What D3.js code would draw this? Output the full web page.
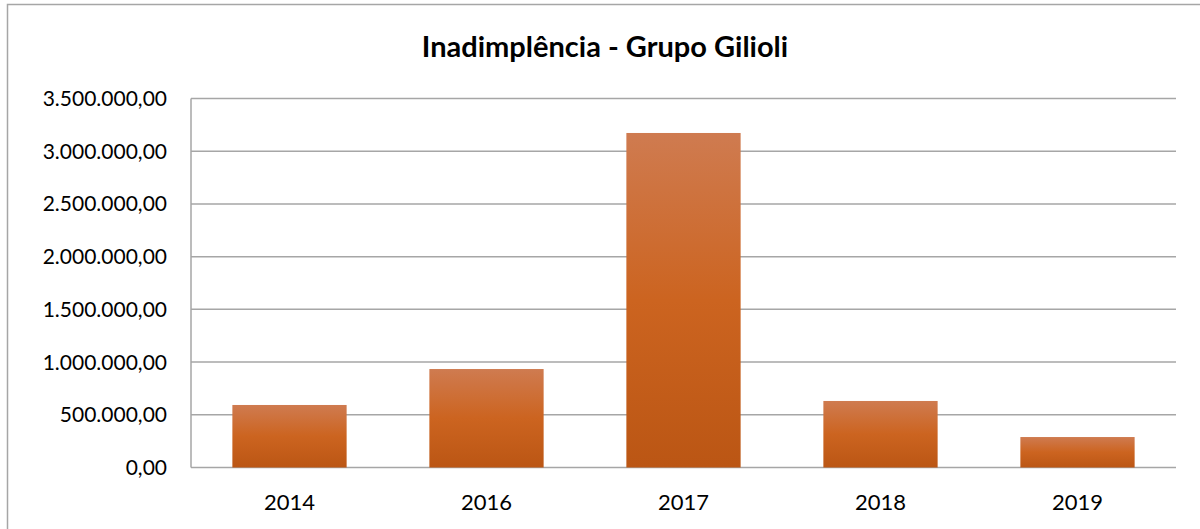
<!DOCTYPE html>
<html>
<head>
<meta charset="utf-8">
<script src="https://cdn.jsdelivr.net/npm/d3@7"></script>
<style>
  body { margin: 0; background: #fff; }
  svg { display: block; }
</style>
</head>
<body>
<svg id="chart" width="1200" height="529"></svg>
<script>
// data
var years = ['2014', '2016', '2017', '2018', '2019'];
var values = [593000, 934000, 3173000, 631000, 289000];
var yTicks = [0, 500000, 1000000, 1500000, 2000000, 2500000, 3000000, 3500000];

var svg = d3.select('#chart');
var m = { left: 191, right: 1176, top: 98.5, bottom: 467.5 };

// outer frame (chart area border)
svg.append('rect')
  .attr('x', 7.5).attr('y', 4.5)
  .attr('width', 1210).attr('height', 540)
  .attr('fill', 'none')
  .attr('stroke', '#a6a6a6')
  .attr('stroke-width', 1.5);

var grad = svg.append('defs').append('linearGradient')
  .attr('id', 'barGrad')
  .attr('x1', 0).attr('y1', 0).attr('x2', 0).attr('y2', 1);
grad.append('stop').attr('offset', '0%').attr('stop-color', '#cf7b50');
grad.append('stop').attr('offset', '50%').attr('stop-color', '#cc6420');
grad.append('stop').attr('offset', '100%').attr('stop-color', '#bb5614');

var x = d3.scaleBand().domain(years).range([m.left, m.right]).paddingInner(0.42).paddingOuter(0.21);
var y = d3.scaleLinear().domain([0, 3500000]).range([m.bottom, m.top]);

var fmt = function (v) {
  var s = d3.format(',.2f')(v);
  return s.replace(/,/g, '#').replace('.', ',').replace(/#/g, '.');
};

// gridlines
svg.append('g')
  .selectAll('line')
  .data(yTicks)
  .join('line')
  .attr('x1', m.left).attr('x2', m.right)
  .attr('y1', function (d) { return y(d); })
  .attr('y2', function (d) { return y(d); })
  .attr('stroke', '#a6a6a6')
  .attr('stroke-width', 1.5);

// y axis line
svg.append('line')
  .attr('x1', m.left).attr('x2', m.left)
  .attr('y1', m.top).attr('y2', m.bottom)
  .attr('stroke', '#a6a6a6').attr('stroke-width', 1.5);

// bars
svg.append('g')
  .selectAll('rect')
  .data(values)
  .join('rect')
  .attr('x', function (d, i) { return x(years[i]); })
  .attr('width', x.bandwidth())
  .attr('y', function (d) { return y(d); })
  .attr('height', function (d) { return y(0) - y(d); })
  .attr('fill', 'url(#barGrad)');

// y tick labels
svg.append('g')
  .selectAll('text')
  .data(yTicks)
  .join('text')
  .attr('x', 167)
  .attr('y', function (d) { return y(d); })
  .attr('dy', '0.36em')
  .attr('text-anchor', 'end')
  .attr('font-family', 'Lato, sans-serif')
  .attr('font-size', 21)
  .attr('fill', '#000')
  .text(fmt);

// x labels
svg.append('g')
  .selectAll('text')
  .data(years)
  .join('text')
  .attr('x', function (d) { return x(d) + x.bandwidth() / 2; })
  .attr('y', 510)
  .attr('text-anchor', 'middle')
  .attr('font-family', 'Lato, sans-serif')
  .attr('font-size', 22)
  .attr('fill', '#000')
  .text(function (d) { return d; });

// title
svg.append('text')
  .attr('x', 605)
  .attr('y', 57)
  .attr('text-anchor', 'middle')
  .attr('font-family', 'Lato, sans-serif')
  .attr('font-weight', 'bold')
  .attr('font-size', 29)
  .attr('fill', '#000')
  .text('Inadimplência - Grupo Gilioli');
</script>
</body>
</html>
